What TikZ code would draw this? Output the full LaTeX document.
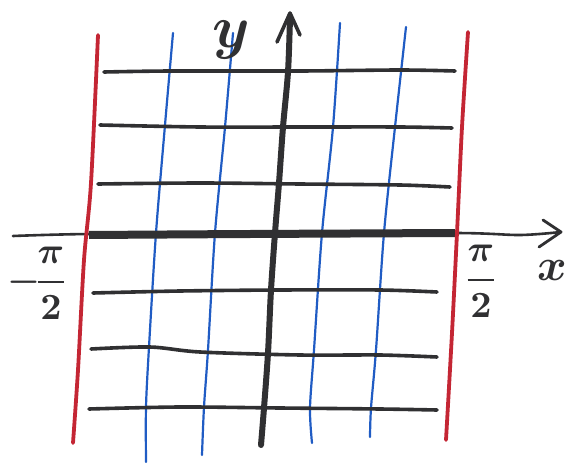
\documentclass[tikz,border=0pt]{standalone}
\usetikzlibrary{arrows.meta}
\definecolor{inkred}{RGB}{196,38,52}
\definecolor{inkblue}{RGB}{32,92,196}
\definecolor{inkblack}{RGB}{48,48,50}
\tikzset{
  gridh/.style={inkblack, line width=3.6pt, line cap=round},
  gridv/.style={inkblue, line width=2.2pt, line cap=round},
  redline/.style={inkred, line width=3.8pt, line cap=round},
  lbl/.style={inkblack, inner sep=0pt, font=\boldmath}
}
\begin{document}
\begin{tikzpicture}[x=1pt,y=-1pt]
\useasboundingbox (0,0) rectangle (571,463);
\fill[white] (0,0) rectangle (571,463);
% blue verticals
\draw[gridv] plot[smooth, tension=0.5] coordinates {(173,33) (165,125) (156,233) (149,347) (146,407) (146,462)};
\draw[gridv] plot[smooth, tension=0.5] coordinates {(233,33) (225,127) (215,233) (208,350) (204,407) (202,455)};
\draw[gridv] plot[smooth, tension=0.5] coordinates {(340,23) (333,127) (322,233) (314,350) (310,408) (312,443)};
\draw[gridv] plot[smooth, tension=0.5] coordinates {(406,27) (395,127) (384,233) (376,350) (371,408) (370,437)};
% black horizontals
\draw[gridh] plot[smooth, tension=0.5] coordinates {(104,72) (170,71) (300,71) (400,70) (455,71)};
\draw[gridh] plot[smooth, tension=0.5] coordinates {(100,125) (200,127) (300,127) (400,127) (452,128)};
\draw[gridh] plot[smooth, tension=0.5] coordinates {(98,184) (200,183) (300,184) (400,185) (450,187)};
\draw[gridh] plot[smooth, tension=0.5] coordinates {(93,293) (180,291) (280,290) (380,290) (437,292)};
\draw[gridh] plot[smooth, tension=0.5] coordinates {(91,349) (150,347) (200,352) (300,355) (380,355) (437,357)};
\draw[gridh] plot[smooth, tension=0.5] coordinates {(89,409) (180,407) (280,408) (380,409) (437,410)};
% x axis
\coordinate (xs) at (13,236);
\coordinate (xe) at (561,232);
\draw[inkblack, line width=2.6pt, line cap=round] plot[smooth, tension=0.5] coordinates {(13,236) (90,234) (250,234) (455,233) (520,235) (561,232)};
\draw[inkblack, line width=8pt] plot[smooth, tension=0.5] coordinates {(89,235) (250,234) (455,233)};
\draw[inkblack, line width=2.8pt, line cap=round, line join=round] (543,220) -- (xe) -- (539,247);
% y axis
\coordinate (ye) at (290,13);
\draw[inkblack, line width=6pt, line cap=round] plot[smooth, tension=0.5] coordinates {(261,445) (264,408) (268,353) (271,290) (275,233) (279,183) (283,127) (288,72) (290,18)};
\draw[inkblack, line width=3.6pt, line cap=round, line join=round] (277,42) -- (ye) -- (300,35);
% red lines
\draw[redline] plot[smooth, tension=0.5] coordinates {(98,35) (91,183) (84,260) (78,370) (73,443)};
\draw[redline] plot[smooth, tension=0.5] coordinates {(468,32) (462,127) (457,233) (452,333) (446,440)};
% labels
\node[lbl] (ylab) at (231,40) {\scalebox{6}{$y$}};
\node[lbl] (xlab) at (552,270) {\scalebox{4.5}{$x$}};
\node[lbl] (mlab) at (38,283) {\scalebox{3.7}{$\displaystyle -\!\frac{\pi}{2}$}};
\node[lbl] (plab) at (481,281) {\scalebox{3.7}{$\displaystyle \frac{\pi}{2}$}};
\end{tikzpicture}
\end{document}
